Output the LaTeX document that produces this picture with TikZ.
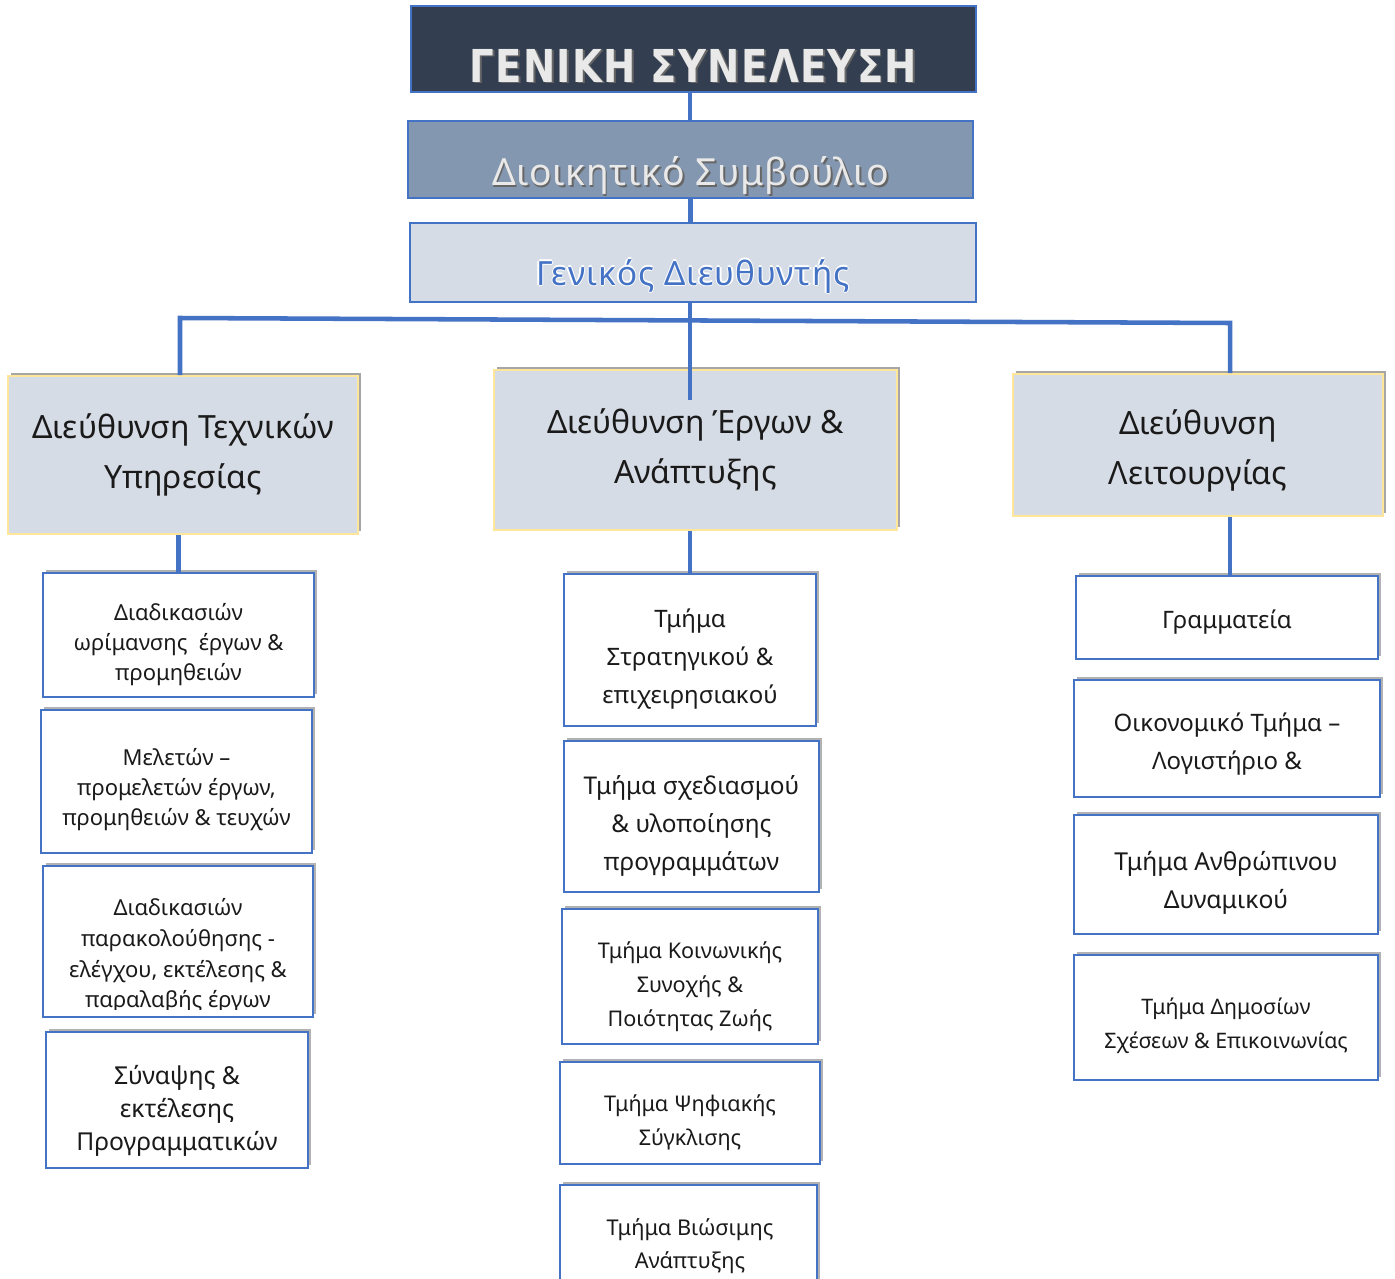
\documentclass[tikz,border=0pt]{standalone}
\usepackage{fontspec}
\setmainfont{Noto Sans}
\newfontfamily\headfont{DejaVu Sans}[FakeStretch=0.85, LetterSpace=3]
\usetikzlibrary{fit,shadows}
\definecolor{navy}{HTML}{333F50}
\definecolor{slate}{HTML}{8497B0}
\definecolor{pale}{HTML}{D6DCE5}
\definecolor{accent}{HTML}{4472C4}
\definecolor{gold}{HTML}{FFE699}
\definecolor{ink}{HTML}{1A1A1A}
\definecolor{lighttext}{HTML}{E9E9E9}
\newdimen\pxu \pxu=0.75pt
\newcommand{\shadowtext}[2]{\leavevmode\rlap{\color{black!60}\hspace{1.3pt}\raisebox{-1.3pt}{#2}}{\color{#1}#2}}
\newcommand{\glowtext}[1]{\leavevmode\rlap{\color{white}\hspace{1pt}#1}\rlap{\color{white}\hspace{-1pt}#1}\rlap{\color{white}\raisebox{1pt}{#1}}\rlap{\color{white}\raisebox{-1pt}{#1}}{\color{accent}#1}}
% #1: offset (px) of the text block centre below the box centre
\newcommand{\tx}[2]{\raisebox{-\dimexpr #1\pxu + 0.25em\relax}[0pt][0pt]{\begin{tabular}{@{}c@{}}#2\end{tabular}}}
\tikzset{
  every node/.style={inner sep=0pt, text=ink},
  topbox/.style={draw=accent, line width=2pt},
  dept/.style={fill=pale, draw=gold, line width=1.5pt,
    drop shadow={shadow xshift=2.5pt, shadow yshift=2.5pt, opacity=0.35, fill=black},
    font=\fontsize{24}{38}\selectfont},
  unit/.style={fill=white, draw=accent, line width=1.7pt,
    drop shadow={shadow xshift=2pt, shadow yshift=2.5pt, opacity=0.3, fill=black}},
  link/.style={draw=accent, line width=3.4pt},
}
\begin{document}
\begin{tikzpicture}[x=0.75pt,y=-0.75pt]
\clip (0,0) rectangle (1395,1278);
\fill[white] (0,0) rectangle (1395,1278);

% top chain
\node[topbox, fill=navy, fit={(411,6) (976,92)}, font=\headfont\bfseries\fontsize{34}{34}\selectfont] (gs)
  {\raisebox{-24.75pt}[0pt][0pt]{\shadowtext{lighttext}{ΓΕΝΙΚΗ ΣΥΝΕΛΕΥΣΗ}}};
\node[topbox, fill=slate, fit={(408,121) (973,198)}, font=\fontsize{28}{28}\selectfont\addfontfeatures{LetterSpace=2}] (ds)
  {\raisebox{-19.5pt}[0pt][0pt]{\shadowtext{lighttext}{Διοικητικό Συμβούλιο}}};
\node[topbox, fill=pale, fit={(410,223) (976,302)}, font=\fontsize{25}{25}\selectfont\addfontfeatures{LetterSpace=3}] (gd)
  {\raisebox{-17pt}[0pt][0pt]{\glowtext{Γενικός Διευθυντής}}};

% directorates
\node[dept, fit={(8,376) (358,534)}] (dT) {\tx{-1.5}{Διεύθυνση Τεχνικών\\Υπηρεσίας}};
\node[dept, fit={(494,370) (897,530)}] (dM) {\tx{-1.5}{Διεύθυνση Έργων \&\\Ανάπτυξης}};
\node[dept, fit={(1013,374) (1383,516)}] (dL) {\tx{4.5}{Διεύθυνση\\Λειτουργίας}};

% left column
\node[unit, fit={(43,573) (314,697)}, font=\fontsize{16.5}{22.5}\selectfont] (l1)
  {\tx{10}{Διαδικασιών\\ωρίμανσης \ έργων \&\\προμηθειών}};
\node[unit, fit={(41,710) (312,853)}, font=\fontsize{16.5}{22.5}\selectfont] (l2)
  {\tx{8.5}{Μελετών –\\προμελετών έργων,\\προμηθειών \& τευχών}};
\node[unit, fit={(43,866) (313,1017)}] (l3) {};
\begin{scope}
  \clip (45,868) rectangle (311,1009.5);
  \node[font=\fontsize{16.5}{23}\selectfont] (l3t) at (178,942.5)
    {\tx{13.5}{Διαδικασιών\\παρακολούθησης -\\ελέγχου, εκτέλεσης \&\\παραλαβής έργων}};
\end{scope}
\node[unit, fit={(46,1032) (308,1168)}, font=\fontsize{18.5}{24.75}\selectfont] (l4)
  {\tx{10}{Σύναψης \&\\εκτέλεσης\\Προγραμματικών}};

% middle column
\node[unit, fit={(564,574) (816,726)}, font=\fontsize{18}{28.5}\selectfont] (m1)
  {\tx{7.5}{Τμήμα\\Στρατηγικού \&\\επιχειρησιακού}};
\node[unit, fit={(564,741) (819,892)}, font=\fontsize{18.3}{28.5}\selectfont] (m2)
  {\tx{8}{Τμήμα σχεδιασμού\\\& υλοποίησης\\προγραμμάτων}};
\node[unit, fit={(562,909) (818,1044)}, font=\fontsize{16.2}{25.5}\selectfont] (m3)
  {\tx{9.5}{Τμήμα Κοινωνικής\\Συνοχής \&\\Ποιότητας Ζωής}};
\node[unit, fit={(560,1062) (820,1164)}, font=\fontsize{16.2}{25.5}\selectfont] (m4)
  {\tx{9}{Τμήμα Ψηφιακής\\Σύγκλισης}};
\node[unit, fit={(560,1185) (817,1300)}] (m5) {};
\node[font=\fontsize{16.3}{25}\selectfont] (m5t) at (690,1245.5)
  {\tx{0}{Τμήμα Βιώσιμης\\Ανάπτυξης}};

% right column
\node[unit, fit={(1076,576) (1378,659)}, font=\fontsize{18}{28.5}\selectfont] (r1)
  {\tx{3.5}{Γραμματεία}};
\node[unit, fit={(1074,680) (1380,797)}, font=\fontsize{18}{28.5}\selectfont] (r2)
  {\tx{4.5}{Οικονομικό Τμήμα –\\Λογιστήριο \&}};
\node[unit, fit={(1074,815) (1378,934)}, font=\fontsize{18.5}{28.5}\selectfont] (r3)
  {\tx{6.5}{Τμήμα Ανθρώπινου\\Δυναμικού}};
\node[unit, fit={(1074,955) (1378,1080)}, font=\fontsize{16}{25.5}\selectfont] (r4)
  {\tx{7.5}{Τμήμα Δημοσίων\\Σχέσεων \& Επικοινωνίας}};

% connectors
\coordinate (hl) at (180,318);
\coordinate (hr) at (1230,323);
\coordinate (mid) at (690,400);
\draw[link] (gs.south -| mid) -- (ds.north -| mid);
\draw[link] (ds.south) -- (ds.south |- gd.north);
\draw[link] (gd.south -| mid) -- (mid);
\draw[link] (hl |- dT.north) -- (hl) -- (hr) -- (hr |- dL.north);
\draw[link] (dT.south -| l1.north) -- (l1.north);
\draw[link] (dM.south -| m1.north) -- (m1.north);
\draw[link] (dL.south -| hr) -- (r1.north -| hr);
\end{tikzpicture}
\end{document}
